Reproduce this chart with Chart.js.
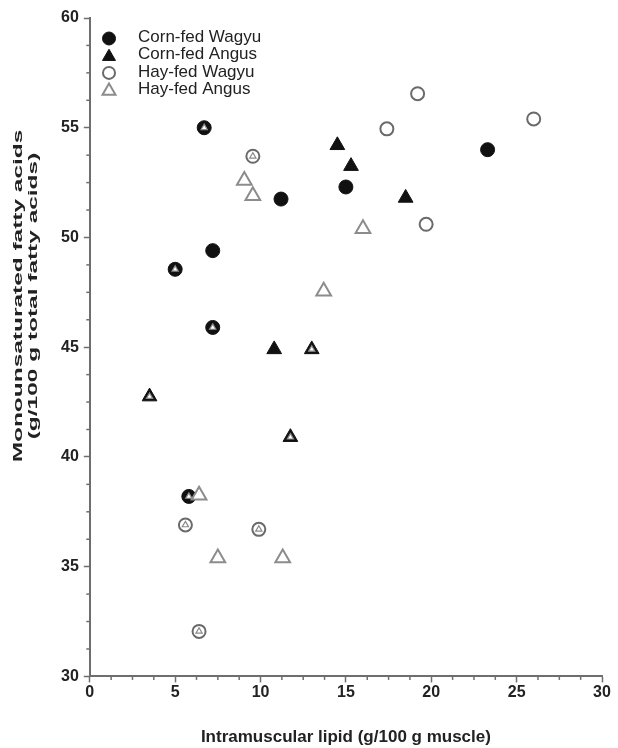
<!DOCTYPE html>
<html><head><meta charset="utf-8">
<script src="https://cdn.jsdelivr.net/npm/chart.js@4.4.0/dist/chart.umd.min.js"></script>
<style>html,body{margin:0;padding:0;background:#fff}canvas{display:block}</style>
</head><body>
<canvas id="c" width="618" height="748"></canvas>
<script>
// ---- data ----
const seriesNames = ['Corn-fed Wagyu', 'Corn-fed Angus', 'Hay-fed Wagyu', 'Hay-fed Angus'];
const cornWagyuX = [6.7, 11.2, 7.2, 5.0, 7.2, 15.0, 23.3, 5.8];
const cornWagyuY = [55.0, 51.75, 49.4, 48.55, 45.9, 52.3, 54.0, 38.2];
const cornWagyuMarked = [1, 0, 0, 1, 1, 0, 0, 1];
const cornAngusX = [14.5, 15.3, 18.5, 10.8, 13.0, 3.5, 11.75];
const cornAngusY = [54.2, 53.25, 51.8, 44.9, 44.9, 42.75, 40.9];
const cornAngusMarked = [0, 0, 0, 0, 1, 1, 1];
const hayWagyuX = [9.55, 19.2, 17.4, 26.0, 19.7, 5.6, 9.9, 6.4];
const hayWagyuY = [53.7, 56.55, 54.95, 55.4, 50.6, 36.9, 36.7, 32.05];
const hayWagyuMarked = [1, 0, 0, 0, 0, 1, 1, 1];
const hayAngusX = [9.05, 9.55, 16.0, 13.7, 6.4, 7.5, 11.3];
const hayAngusY = [52.6, 51.9, 50.4, 47.55, 38.25, 35.4, 35.4];
const xTicks = [0, 5, 10, 15, 20, 25, 30];
const yTicks = [30, 35, 40, 45, 50, 55, 60];
const xTitle = 'Intramuscular lipid (g/100 g muscle)';
const yTitleLines = ['Monounsaturated fatty acids', '(g/100 g total fatty acids)'];

// ---- build ----
const pts = (xs, ys) => xs.map((x, i) => ({x, y: ys[i]}));
const marks = [];
[[cornWagyuX, cornWagyuY, cornWagyuMarked], [cornAngusX, cornAngusY, cornAngusMarked],
 [hayWagyuX, hayWagyuY, hayWagyuMarked]].forEach(([xs, ys, m]) => {
  xs.forEach((x, i) => { if (m[i]) marks.push({x, y: ys[i]}); });
});

const FONT = '"Liberation Sans", Arial, Helvetica, sans-serif';
const AXIS = '#6e6e6e';

// lower "order" is drawn on top
const datasets = [
  {label: seriesNames[0], data: pts(cornWagyuX, cornWagyuY), pointStyle: 'circle', pointRadius: 7,
   backgroundColor: '#111', borderColor: '#111', borderWidth: 1, order: 4},
  {label: seriesNames[1], data: pts(cornAngusX, cornAngusY), pointStyle: 'triangle', pointRadius: 8.5,
   backgroundColor: '#111', borderColor: '#111', borderWidth: 1, order: 3},
  {label: seriesNames[2], data: pts(hayWagyuX, hayWagyuY), pointStyle: 'circle', pointRadius: 6.5,
   backgroundColor: '#fff', borderColor: '#6a6a6a', borderWidth: 2, order: 2},
  {label: seriesNames[3], data: pts(hayAngusX, hayAngusY), pointStyle: 'triangle', pointRadius: 8.5,
   backgroundColor: '#fff', borderColor: '#8c8c8c', borderWidth: 2, order: 1},
  {label: '_mark', data: marks, pointStyle: 'triangle', pointRadius: 3.6,
   backgroundColor: '#fff', borderColor: '#8a8a8a', borderWidth: 1.2, order: 0}
];

function drawShape(ctx, style, x, y, r) {
  ctx.beginPath();
  if (style === 'circle') {
    ctx.arc(x, y, r, 0, Math.PI * 2);
  } else {
    for (let k = 0; k < 3; k++) {
      const a = -Math.PI / 2 + k * 2 * Math.PI / 3;
      const px = x + r * Math.cos(a), py = y + r * Math.sin(a);
      k ? ctx.lineTo(px, py) : ctx.moveTo(px, py);
    }
    ctx.closePath();
  }
  ctx.fill(); ctx.stroke();
}

const customPlugin = {
  id: 'custom',
  afterDraw(chart) {
    const ctx = chart.ctx;
    const xs = chart.scales.x, ys = chart.scales.y;
    // minor ticks
    ctx.save();
    ctx.strokeStyle = AXIS; ctx.lineWidth = 1.5;
    const b = chart.chartArea.bottom, l = chart.chartArea.left;
    for (let v = xs.min; v <= xs.max + 1e-9; v += 1.25) {
      if (Math.abs(v / 5 - Math.round(v / 5)) < 1e-6) continue;
      const p = xs.getPixelForValue(v);
      ctx.beginPath(); ctx.moveTo(p, b); ctx.lineTo(p, b + 3.5); ctx.stroke();
    }
    for (let v = ys.min; v <= ys.max + 1e-9; v += 1.25) {
      if (Math.abs(v / 5 - Math.round(v / 5)) < 1e-6) continue;
      const p = ys.getPixelForValue(v);
      ctx.beginPath(); ctx.moveTo(l - 3.5, p); ctx.lineTo(l, p); ctx.stroke();
    }
    ctx.restore();
    // legend
    ctx.save();
    chart.data.datasets.slice(0, 4).forEach((ds, i) => {
      const cy = 38.5 + i * 17.2;
      ctx.fillStyle = ds.backgroundColor; ctx.strokeStyle = ds.borderColor;
      ctx.lineWidth = ds.borderWidth;
      const r = ds.pointStyle === 'circle' ? (i === 0 ? 6.5 : 6) : 7.5;
      drawShape(ctx, ds.pointStyle, 109, ds.pointStyle === 'circle' ? cy : cy + 1, r);
      ctx.fillStyle = '#222';
      ctx.font = '17px ' + FONT;
      ctx.textAlign = 'left'; ctx.textBaseline = 'middle';
      ctx.fillText(ds.label, 138, cy - 1);
    });
    ctx.restore();
    // y title (stretched along its length)
    ctx.save();
    ctx.translate(26, 296);
    ctx.rotate(-Math.PI / 2);
    ctx.scale(1.88, 1);
    ctx.font = 'bold 13px ' + FONT;
    ctx.fillStyle = '#222'; ctx.textAlign = 'center'; ctx.textBaseline = 'middle';
    yTitleLines.forEach((t, i) => ctx.fillText(t, 0, (i - (yTitleLines.length - 1) / 2) * 14.5));
    ctx.restore();
  }
};

new Chart(document.getElementById('c'), {
  type: 'scatter',
  data: {datasets},
  options: {
    responsive: false,
    animation: false,
    devicePixelRatio: 1,
    layout: {padding: {left: 56, right: 16, top: 18, bottom: 0}},
    plugins: {legend: {display: false}, tooltip: {enabled: false}},
    scales: {
      x: {
        type: 'linear', min: 0, max: 30,
        afterBuildTicks: s => { s.ticks = xTicks.map(v => ({value: v})); },
        ticks: {font: {family: FONT, size: 16, weight: 'bold'}, color: '#222', padding: 1},
        grid: {drawOnChartArea: false, tickLength: 6, tickColor: AXIS, tickWidth: 1.5},
        border: {color: AXIS, width: 2},
        title: {display: true, text: xTitle, color: '#222',
                font: {family: FONT, size: 17, weight: 'bold'}, padding: {top: 24, bottom: 0}}
      },
      y: {
        type: 'linear', min: 30, max: 60,
        afterBuildTicks: s => { s.ticks = yTicks.map(v => ({value: v})); },
        ticks: {font: {family: FONT, size: 16, weight: 'bold'}, color: '#222', padding: 5},
        grid: {drawOnChartArea: false, tickLength: 6, tickColor: AXIS, tickWidth: 1.5},
        border: {color: AXIS, width: 2},
        title: {display: false, text: yTitleLines}
      }
    }
  },
  plugins: [customPlugin]
});
</script>
</body></html>
